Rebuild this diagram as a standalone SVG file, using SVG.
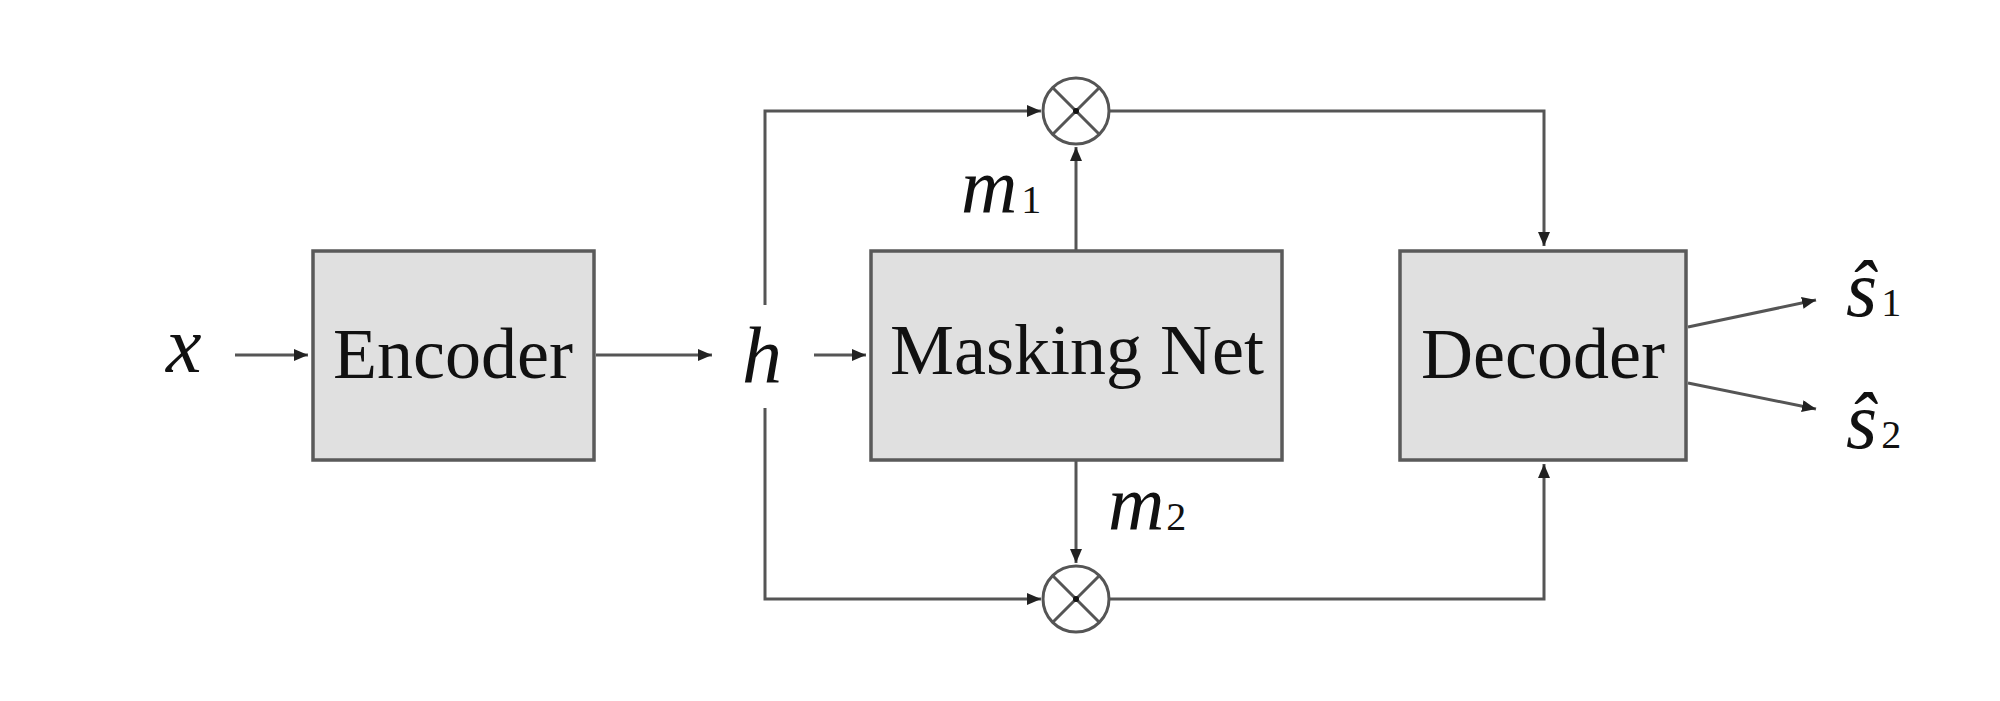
<svg xmlns="http://www.w3.org/2000/svg" width="2000" height="701" viewBox="0 0 2000 701">
<style>
.box{fill:#e0e0e0;stroke:#5a5a5a;stroke-width:3.5}
.lbl{font-family:"Liberation Serif","Times New Roman",serif;font-size:72px;fill:#111}
.var{font-family:"Liberation Serif","Times New Roman",serif;font-style:italic;fill:#111}
.sub{font-family:"Liberation Serif","Times New Roman",serif;font-size:40px;fill:#111}
.ln{fill:none;stroke:#555;stroke-width:3}
.mul{fill:none;stroke:#555;stroke-width:3}
</style>
<defs>
<marker id="ah" viewBox="0 0 14 12" refX="14" refY="6" markerWidth="14" markerHeight="12" markerUnits="userSpaceOnUse" orient="auto">
<path d="M0,0 L14,6 L0,12 Z" fill="#222"/>
</marker>
</defs>
<rect width="2000" height="701" fill="#fff"/>
<g id="connectors">
<line class="ln" x1="235" y1="355" x2="308" y2="355" marker-end="url(#ah)"/>
<line class="ln" x1="596" y1="355" x2="712" y2="355" marker-end="url(#ah)"/>
<line class="ln" x1="814" y1="355" x2="866" y2="355" marker-end="url(#ah)"/>
<polyline class="ln" points="765,305 765,111 1041,111" marker-end="url(#ah)"/>
<polyline class="ln" points="765,408 765,599 1041,599" marker-end="url(#ah)"/>
<line class="ln" x1="1076" y1="250" x2="1076" y2="147" marker-end="url(#ah)"/>
<line class="ln" x1="1076" y1="460" x2="1076" y2="563" marker-end="url(#ah)"/>
<polyline class="ln" points="1109,111 1544,111 1544,246" marker-end="url(#ah)"/>
<polyline class="ln" points="1109,599 1544,599 1544,464" marker-end="url(#ah)"/>
<line class="ln" x1="1688" y1="327" x2="1816" y2="300" marker-end="url(#ah)"/>
<line class="ln" x1="1688" y1="383" x2="1816" y2="409" marker-end="url(#ah)"/>
</g>
<g id="x-input"><text class="var" x="166" y="372" font-size="80">x</text></g>
<g id="encoder">
<rect class="box" x="313" y="251" width="281" height="209"/>
<text class="lbl" x="453" y="378" text-anchor="middle">Encoder</text>
</g>
<g id="h-label"><text class="var" x="742" y="382" font-size="80">h</text></g>
<g id="masking-net">
<rect class="box" x="871" y="251" width="411" height="209"/>
<text class="lbl" x="1077" y="374" text-anchor="middle">Masking Net</text>
</g>
<g id="decoder">
<rect class="box" x="1400" y="251" width="286" height="209"/>
<text class="lbl" x="1543" y="378" text-anchor="middle">Decoder</text>
</g>
<g id="mult-top">
<circle class="mul" cx="1076" cy="111" r="33"/>
<path class="mul" d="M1053,88 L1099,134 M1099,88 L1053,134"/>
<circle cx="1076" cy="111" r="3" fill="#111"/>
</g>
<g id="mult-bottom">
<circle class="mul" cx="1076" cy="599" r="33"/>
<path class="mul" d="M1053,576 L1099,622 M1099,576 L1053,622"/>
<circle cx="1076" cy="599" r="3" fill="#111"/>
</g>
<g id="m1-label"><text x="961" y="213"><tspan class="var" font-size="78">m</tspan><tspan class="sub" dx="4">1</tspan></text></g>
<g id="m2-label"><text x="1108" y="530"><tspan class="var" font-size="78">m</tspan><tspan class="sub" dx="2">2</tspan></text></g>
<g id="s1-label"><text x="1846" y="316"><tspan class="var" font-size="80">ŝ</tspan><tspan class="sub" dx="4">1</tspan></text></g>
<g id="s2-label"><text x="1846" y="448"><tspan class="var" font-size="80">ŝ</tspan><tspan class="sub" dx="4">2</tspan></text></g>
</svg>
